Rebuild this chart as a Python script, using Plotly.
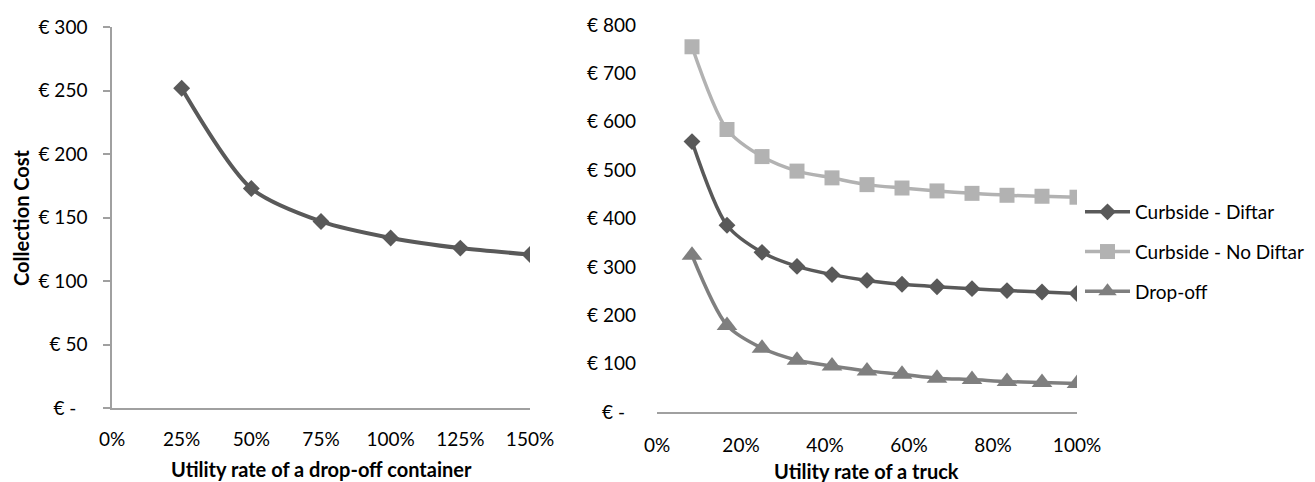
import plotly.graph_objects as go

# ---- data ----
left_x = [0.25, 0.50, 0.75, 1.00, 1.25, 1.50]
left_cost = [252, 173, 147, 134, 126, 121]

truck_x = [1/12, 2/12, 3/12, 4/12, 5/12, 6/12, 7/12, 8/12, 9/12, 10/12, 11/12, 1.0]
curbside_diftar = [559, 386, 330, 301, 284, 272, 264, 259, 255, 251, 248, 245]
curbside_no_diftar = [755, 584, 528, 498, 484, 470, 463, 457, 452, 448, 446, 444]
drop_off = [324, 179, 132, 107, 95, 85, 78, 70, 67, 63, 61, 59]

left_yticks = [0, 50, 100, 150, 200, 250, 300]
left_yticktext = ["€ -\u2007", "€ 50", "€ 100", "€ 150", "€ 200", "€ 250", "€ 300"]
right_yticks = [0, 100, 200, 300, 400, 500, 600, 700, 800]
right_yticktext = ["€ -\u2007", "€ 100", "€ 200", "€ 300", "€ 400", "€ 500", "€ 600", "€ 700", "€ 800"]
left_xticks = [0, 0.25, 0.5, 0.75, 1.0, 1.25, 1.5]
right_xticks = [0, 0.2, 0.4, 0.6, 0.8, 1.0]

FONT = "Lato"
W, H = 1315, 482
fx = lambda px: px / W
fy = lambda py: 1 - py / H

fig = go.Figure()

fig.add_trace(go.Scatter(
    x=left_x, y=left_cost, mode="lines+markers", showlegend=False,
    line=dict(color="#595959", width=4, shape="spline", smoothing=0.8),
    marker=dict(symbol="diamond", size=13, color="#595959"),
    xaxis="x", yaxis="y", name="Drop-off container"))

fig.add_trace(go.Scatter(
    x=truck_x, y=curbside_diftar, mode="lines+markers", name="Curbside - Diftar",
    legendgroup="a",
    line=dict(color="#595959", width=3.5, shape="spline", smoothing=0.8),
    marker=dict(symbol="diamond", size=13, color="#595959"),
    xaxis="x2", yaxis="y2"))
fig.add_trace(go.Scatter(
    x=truck_x, y=curbside_no_diftar, mode="lines+markers", name="Curbside - No Diftar",
    legendgroup="b",
    line=dict(color="#b2b2b2", width=3.5, shape="spline", smoothing=0.8),
    marker=dict(symbol="square", size=15, color="#b2b2b2"),
    xaxis="x2", yaxis="y2"))
fig.add_trace(go.Scatter(
    x=truck_x, y=drop_off, mode="lines+markers", name="Drop-off",
    legendgroup="c",
    line=dict(color="#7f7f7f", width=3.5, shape="spline", smoothing=0.8),
    marker=dict(symbol="triangle-up", size=18, color="#7f7f7f"),
    xaxis="x2", yaxis="y2"))

axis_color = "#a0a0a0"
tickfont = dict(family=FONT, size=19, color="#000000")
titlefont = dict(family=FONT, size=20, color="#000000")

fig.update_layout(
    width=W, height=H,
    margin=dict(l=0, r=0, t=0, b=0, pad=0, autoexpand=False),
    paper_bgcolor="white", plot_bgcolor="white",
    font=dict(family=FONT, size=18, color="#000000"),
    xaxis=dict(domain=[fx(112), fx(530)], range=[0, 1.5], tickvals=left_xticks,
               tickformat=".0%", showgrid=False, zeroline=False, showline=True,
               linecolor=axis_color, linewidth=1.5, ticks="", tickfont=tickfont,
               ticklabelstandoff=13, anchor="y", automargin=False),
    yaxis=dict(domain=[fy(408), fy(27.3)], range=[0, 300], tickvals=left_yticks,
               ticktext=left_yticktext, showgrid=False, zeroline=False, showline=True,
               linecolor=axis_color, linewidth=1.5, ticks="outside", ticklen=7,
               tickcolor=axis_color, tickwidth=1.5, tickfont=tickfont,
               ticklabelstandoff=12, anchor="x", automargin=False),
    xaxis2=dict(domain=[fx(657), fx(1077)], range=[0, 1.0], tickvals=right_xticks,
                tickformat=".0%", showgrid=False, zeroline=False, showline=True,
                linecolor=axis_color, linewidth=1.5, ticks="", tickfont=tickfont,
                ticklabelstandoff=15, anchor="y2", automargin=False),
    yaxis2=dict(domain=[fy(412), fy(25)], range=[0, 800], tickvals=right_yticks,
                ticktext=right_yticktext, showgrid=False, zeroline=False, showline=False,
                ticks="", tickfont=tickfont, ticklabelstandoff=20, anchor="x2",
                automargin=False),
    legend=dict(x=fx(1080), y=fy(193), xanchor="left", yanchor="top",
                font=dict(family=FONT, size=19, color="#000000"),
                tracegroupgap=12, itemwidth=45, bgcolor="rgba(0,0,0,0)",
                traceorder="grouped"),
    annotations=[
        dict(text="<b>Collection Cost</b>", x=fx(21), y=fy(218), xref="paper", yref="paper",
             xanchor="center", yanchor="middle",
             textangle=-90, showarrow=False, font=titlefont),
        dict(text="<b>Utility rate of a drop-off container</b>", x=fx(321), y=fy(469),
             xanchor="center", yanchor="middle",
             xref="paper", yref="paper", showarrow=False, font=titlefont),
        dict(text="<b>Utility rate of a truck</b>", x=fx(867), y=fy(471),
             xanchor="center", yanchor="middle",
             xref="paper", yref="paper", showarrow=False, font=titlefont),
    ],
)

fig.write_html("out.html", config={"displayModeBar": False},
               post_script="document.body.style.margin='0';document.body.style.overflow='hidden';")
